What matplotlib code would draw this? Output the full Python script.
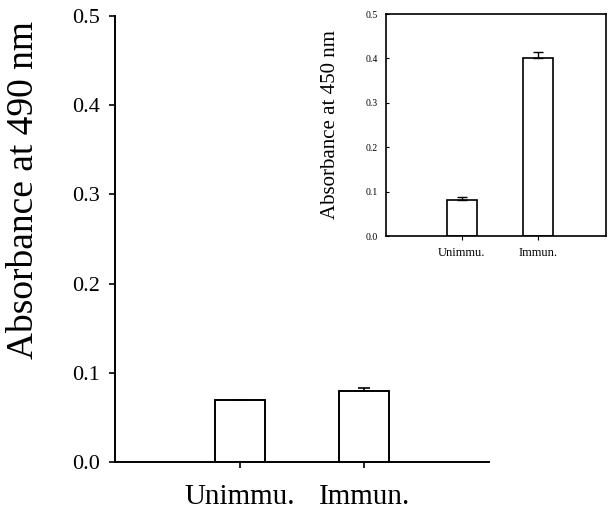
import matplotlib
matplotlib.use('Agg')
from matplotlib import pyplot as plt
import numpy as np

groups = ['Unimmu.', 'Immun.']
abs490 = [0.070, 0.080]
abs490_err = [0.0, 0.003]
abs450 = [0.080, 0.400]
abs450_err = [0.008, 0.015]

plt.rcParams['font.family'] = ['Liberation Serif', 'DejaVu Serif']

fig = plt.figure(figsize=(6.15, 5.13), dpi=100)
x = np.array([1, 2])

# main panel
ax = fig.add_axes([115 / 615, 51 / 513, 374 / 615, 446 / 513])
ax.bar(x, abs490, width=0.4, color='white', edgecolor='black', linewidth=1.4,
       yerr=[[0, 0], abs490_err],
       error_kw=dict(ecolor='black', elinewidth=1.2, capsize=4, capthick=1.2))
ax.set_xlim(0, 3)
ax.set_ylim(0, 0.5)
ax.set_yticks([0.0, 0.1, 0.2, 0.3, 0.4, 0.5])
ax.set_yticklabels(['0.0', '0.1', '0.2', '0.3', '0.4', '0.5'], fontsize=16)
ax.set_xticks(x)
ax.set_xticklabels(groups, fontsize=21)
ax.tick_params(axis='y', direction='out', length=4, width=1.2, pad=7)
ax.tick_params(axis='x', direction='out', length=4, width=1.2, pad=12)
ax.spines['top'].set_visible(False)
ax.spines['right'].set_visible(False)
ax.spines['left'].set_linewidth(1.4)
ax.spines['bottom'].set_linewidth(1.4)
ax.set_ylabel('Absorbance at 490 nm', fontsize=27, labelpad=22, y=0.61)

# inset panel
ins = fig.add_axes([386 / 615, 277 / 513, 220 / 615, 222 / 513])
ins.bar(x, abs450, width=0.39, color='white', edgecolor='black', linewidth=1.2,
        yerr=[[0, 0], abs450_err],
        error_kw=dict(ecolor='black', elinewidth=1, capsize=3.5, capthick=1))
ins.set_xlim(0, 2.9)
ins.set_ylim(0, 0.5)
ins.set_yticks([0.0, 0.1, 0.2, 0.3, 0.4, 0.5])
ins.set_yticklabels(['0.0', '0.1', '0.2', '0.3', '0.4', '0.5'], fontsize=7)
ins.set_xticks(x)
ins.set_xticklabels(groups, fontsize=9)
ins.tick_params(axis='y', direction='in', length=2, width=0.8, pad=6)
ins.tick_params(axis='x', direction='out', length=3, width=0.8, pad=5)
for s in ins.spines.values():
    s.set_linewidth(1.2)
ins.set_ylabel('Absorbance at 450 nm', fontsize=15, labelpad=18)

plt.savefig('out.png', dpi=100)
